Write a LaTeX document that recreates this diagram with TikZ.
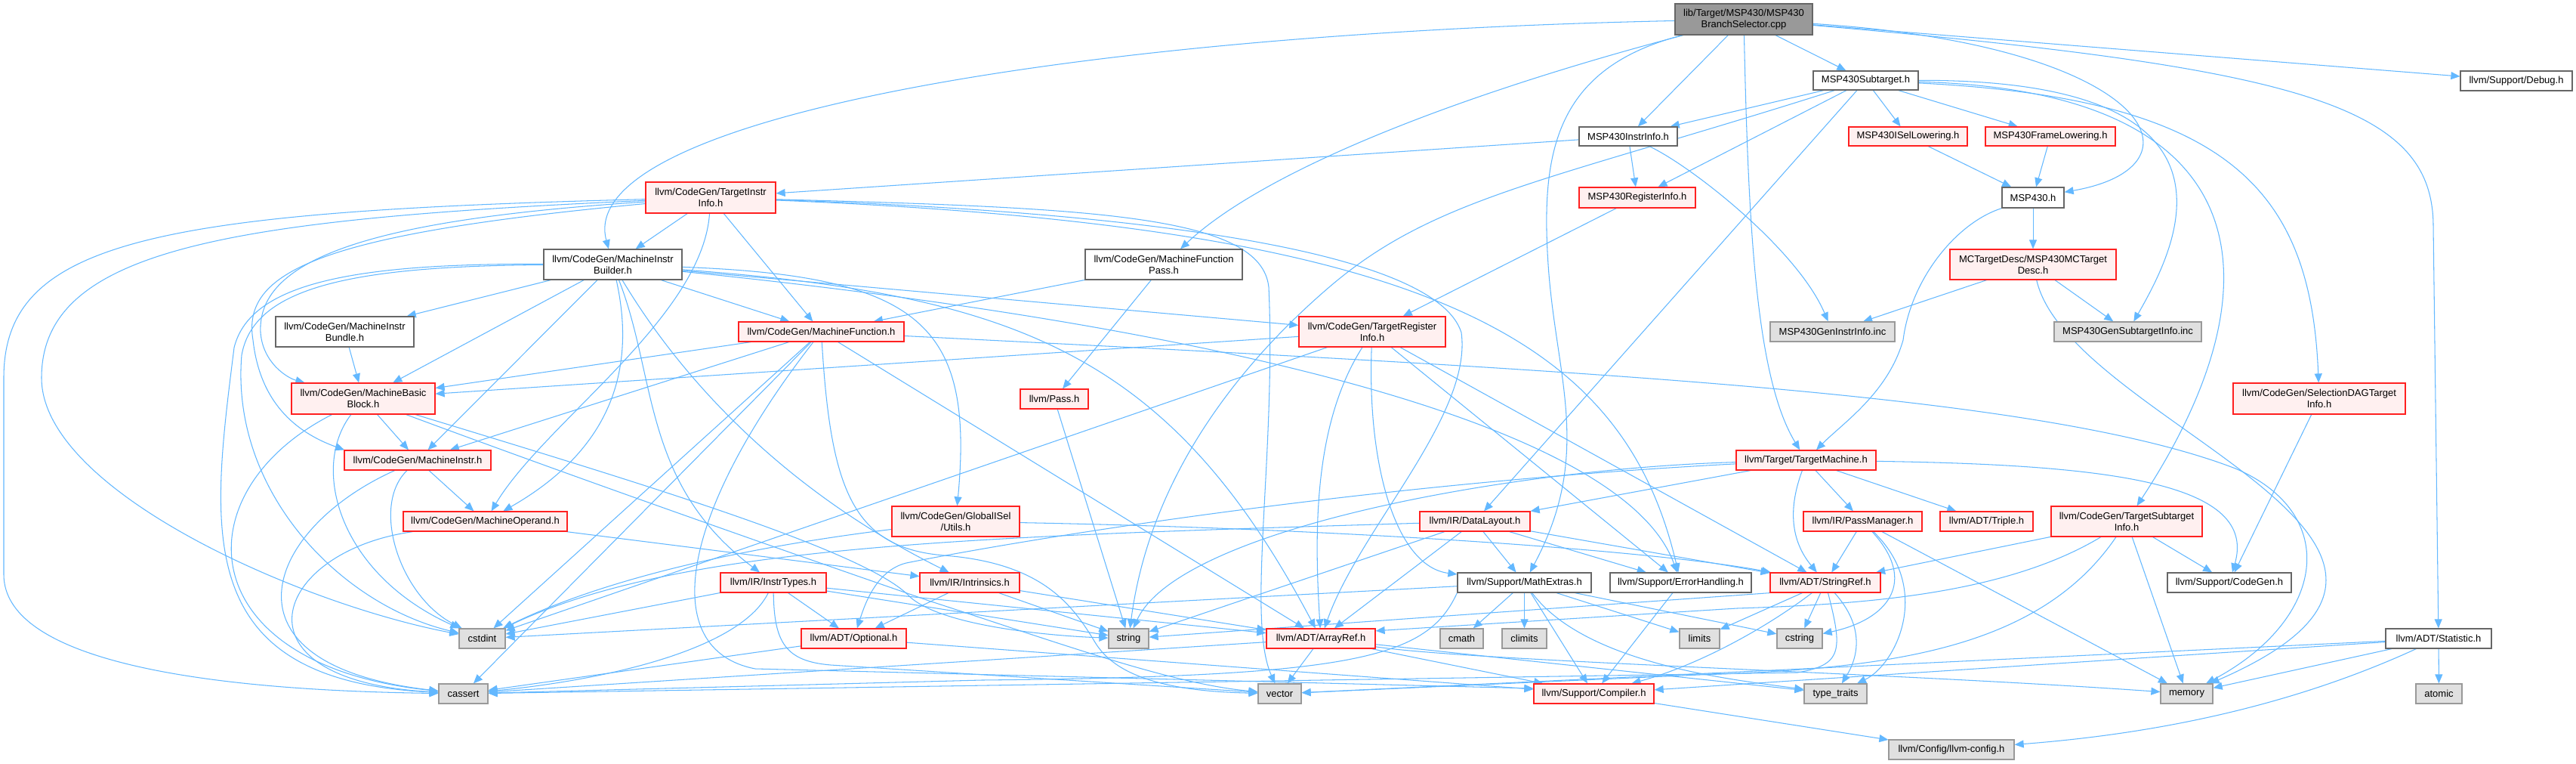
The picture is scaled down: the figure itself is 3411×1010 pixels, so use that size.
\documentclass[tikz,border=0pt]{standalone}
\usepackage{fontspec}
\setmainfont{Liberation Sans}
\usetikzlibrary{arrows.meta}
\pgfdeclarelayer{bglayer}
\pgfdeclarelayer{edgelayer}
\pgfsetlayers{bglayer,edgelayer,main}
\definecolor{edgec}{HTML}{63B8FF}
\definecolor{redb}{HTML}{FF2020}
\definecolor{redf}{HTML}{FFF0F0}
\definecolor{grayb}{HTML}{999999}
\definecolor{grayf}{HTML}{E0E0E0}
\definecolor{whiteb}{HTML}{666666}
\definecolor{mainf}{HTML}{999999}
\newcommand{\mknd}[7]{\node[#1,minimum width=#5pt,minimum height=#6pt] (#2) at (#3,#4) {#7};}
\begin{document}
\begin{tikzpicture}[x=1pt,y=-1pt,
  box/.style={line width=1.25pt, inner sep=0pt, align=center, font=\fontsize{13}{15}\selectfont, text=black},
  rn/.style={box, draw=redb, fill=redf},
  wn/.style={box, draw=whiteb, fill=white},
  gn/.style={box, draw=grayb, fill=grayf},
  mn/.style={box, draw=whiteb, fill=mainf},
  edg/.style={draw=edgec, line width=1.05pt, -{Triangle[length=12pt,width=10pt]}}]
\begin{pgfonlayer}{bglayer}
\fill[white] (0,0) rectangle (3411,1010);
\end{pgfonlayer}
\useasboundingbox (0,0) rectangle (3411,1010);
% nodes
\mknd{mn}{mainn}{2309}{25.5}{182}{41}{lib/Target/MSP430/MSP430\\BranchSelector.cpp}
\mknd{wn}{sub}{2470.5}{106.5}{139}{25}{MSP430Subtarget.h}
\mknd{wn}{debug}{3332}{107}{148}{26}{llvm/Support/Debug.h}
\mknd{wn}{instrinfo}{2156}{180.5}{130}{25}{MSP430InstrInfo.h}
\mknd{rn}{isel}{2526.5}{180.5}{157}{25}{MSP430ISelLowering.h}
\mknd{rn}{frame}{2715}{180.5}{172}{25}{MSP430FrameLowering.h}
\mknd{rn}{tii}{941}{261.5}{172}{41}{llvm/CodeGen/TargetInstr\\Info.h}
\mknd{rn}{reginfo}{2168}{261.5}{154}{27}{MSP430RegisterInfo.h}
\mknd{wn}{msp}{2692}{261.5}{82}{27}{MSP430.h}
\mknd{wn}{mib}{811.5}{350}{183}{40}{llvm/CodeGen/MachineInstr\\Builder.h}
\mknd{wn}{mfpass}{1541}{350}{208}{40}{llvm/CodeGen/MachineFunction\\Pass.h}
\mknd{rn}{mctd}{2692}{350}{220}{40}{MCTargetDesc/MSP430MCTarget\\Desc.h}
\mknd{wn}{bundle}{456.5}{439}{183}{40}{llvm/CodeGen/MachineInstr\\Bundle.h}
\mknd{rn}{mf}{1087.5}{439}{219}{26}{llvm/CodeGen/MachineFunction.h}
\mknd{rn}{tri}{1817}{439}{194}{40}{llvm/CodeGen/TargetRegister\\Info.h}
\mknd{gn}{geninstr}{2426.5}{439}{165}{26}{MSP430GenInstrInfo.inc}
\mknd{gn}{gensub}{2817.5}{439}{195}{26}{MSP430GenSubtargetInfo.inc}
\mknd{rn}{mbb}{481}{527.5}{190}{41}{llvm/CodeGen/MachineBasic\\Block.h}
\mknd{rn}{pass}{1396}{528}{90}{26}{llvm/Pass.h}
\mknd{rn}{sdag}{3071}{527.5}{228}{41}{llvm/CodeGen/SelectionDAGTarget\\Info.h}
\mknd{rn}{mi}{553}{609}{194}{26}{llvm/CodeGen/MachineInstr.h}
\mknd{rn}{tm}{2391.5}{609}{185}{26}{llvm/Target/TargetMachine.h}
\mknd{rn}{mo}{642.5}{690}{217}{26}{llvm/CodeGen/MachineOperand.h}
\mknd{rn}{gisel}{1265.5}{690}{169}{40}{llvm/CodeGen/GlobalISel\\/Utils.h}
\mknd{rn}{dl}{1953}{690}{146}{26}{llvm/IR/DataLayout.h}
\mknd{rn}{pm}{2466.5}{690}{157}{26}{llvm/IR/PassManager.h}
\mknd{rn}{triple}{2630.5}{690}{123}{26}{llvm/ADT/Triple.h}
\mknd{rn}{tsi}{2816}{690}{200}{40}{llvm/CodeGen/TargetSubtarget\\Info.h}
\mknd{rn}{itypes}{1024}{771}{140}{26}{llvm/IR/InstrTypes.h}
\mknd{rn}{intr}{1284}{771}{132}{26}{llvm/IR/Intrinsics.h}
\mknd{wn}{mathx}{2018.5}{771}{177}{26}{llvm/Support/MathExtras.h}
\mknd{wn}{errh}{2225.5}{771}{187}{26}{llvm/Support/ErrorHandling.h}
\mknd{rn}{sref}{2417}{771}{146}{26}{llvm/ADT/StringRef.h}
\mknd{wn}{cgen}{2952}{771}{164}{26}{llvm/Support/CodeGen.h}
\mknd{gn}{cstdint}{638.5}{845}{61}{26}{cstdint}
\mknd{rn}{opt}{1130.5}{845}{139}{26}{llvm/ADT/Optional.h}
\mknd{gn}{string}{1494.5}{845}{53}{26}{string}
\mknd{rn}{aref}{1749}{845}{144}{26}{llvm/ADT/ArrayRef.h}
\mknd{gn}{cmath}{1935.5}{845}{57}{26}{cmath}
\mknd{gn}{climits}{2018.5}{845}{59}{26}{climits}
\mknd{gn}{limits}{2250.5}{845}{53}{26}{limits}
\mknd{gn}{cstring}{2383}{845}{60}{26}{cstring}
\mknd{wn}{stat}{3229}{845}{140}{26}{llvm/ADT/Statistic.h}
\mknd{gn}{cassert}{613.5}{918}{65}{26}{cassert}
\mknd{gn}{vector}{1694.5}{918}{57}{26}{vector}
\mknd{rn}{comp}{2110.5}{918}{159}{26}{llvm/Support/Compiler.h}
\mknd{gn}{ttraits}{2430.5}{918}{83}{26}{type\_traits}
\mknd{gn}{memory}{2895.5}{918}{69}{26}{memory}
\mknd{gn}{atomic}{3229.5}{918}{61}{26}{atomic}
\mknd{gn}{lconf}{2584}{992}{166}{26}{llvm/Config/llvm-config.h}
% edges
\begin{pgfonlayer}{edgelayer}
% main
\draw[edg] (mainn) .. controls (1400,45) and (760,160) .. (mib);
\draw[edg] (mainn) .. controls (1950,120) and (1680,220) .. (mfpass);
\draw[edg] (mainn) .. controls (2060,90) and (2040,200) .. (2050,350) .. controls (2060,500) and (2110,600) .. (mathx);
\draw[edg] (mainn) -- (instrinfo);
\draw[edg] (mainn) .. controls (2315,300) and (2325,500) .. (tm);
\draw[edg] (mainn) -- (sub);
\draw[edg] (mainn) -- (debug);
\draw[edg] (mainn) .. controls (3050,90) and (3222,140) .. (3222,300) -- (stat);
\draw[edg] (mainn) .. controls (2850,60) and (2930,220) .. (msp);
% subtarget
\draw[edg] (sub) -- (instrinfo);
\draw[edg] (sub) -- (reginfo);
\draw[edg] (sub) -- (isel);
\draw[edg] (sub) -- (frame);
\draw[edg] (sub) -- (dl);
\draw[edg] (sub) .. controls (2050,240) and (1900,260) .. (1760,380) .. controls (1620,500) and (1520,650) .. (string);
\draw[edg] (sub) .. controls (3000,105) and (2880,330) .. (gensub);
\draw[edg] (sub) .. controls (3000,120) and (3020,380) .. (tsi);
\draw[edg] (sub) .. controls (2950,130) and (3060,250) .. (sdag);
% instrinfo etc
\draw[edg] (instrinfo) -- (tii);
\draw[edg] (instrinfo) -- (reginfo);
\draw[edg] (instrinfo) .. controls (2240,220) and (2380,330) .. (geninstr);
\draw[edg] (reginfo) -- (tri);
\draw[edg] (isel) -- (msp);
\draw[edg] (frame) -- (msp);
\draw[edg] (msp) -- (mctd);
\draw[edg] (msp.south west) .. controls (2590,295) and (2530,370) .. (2520,450) .. controls (2500,520) and (2440,560) .. (tm);
\draw[edg] (mctd) -- (geninstr);
\draw[edg] (mctd) -- (gensub);
\draw[edg] (mctd) .. controls (2740,560) and (3350,720) .. (memory);
% TargetInstrInfo
\draw[edg] (tii) -- (mib);
\draw[edg] (tii) -- (mf);
\draw[edg] (tii) .. controls (500,290) and (340,340) .. (345,440) .. controls (348,480) and (380,500) .. (mbb);
\draw[edg] (tii) .. controls (420,310) and (320,360) .. (335,450) .. controls (345,540) and (400,575) .. (mi.172);
\draw[edg] (tii) .. controls (930,420) and (720,560) .. (mo);
\draw[edg] (tii) .. controls (1500,280) and (1900,330) .. (1935,440) .. controls (1950,550) and (1800,700) .. (aref);
\draw[edg] (tii) .. controls (1900,300) and (2150,450) .. (errh);
\draw[edg] (tii) .. controls (200,280) and (5,320) .. (5,500) -- (5,760) .. controls (5,900) and (400,915) .. (cassert);
\draw[edg] (tii) .. controls (300,290) and (55,330) .. (55,500) .. controls (55,650) and (400,800) .. (cstdint);
\draw[edg] (tii) .. controls (1450,275) and (1670,285) .. (1680,380) .. controls (1690,600) and (1650,820) .. (vector);
% MachineInstrBuilder
\draw[edg] (mib) -- (bundle);
\draw[edg] (mib) -- (mbb);
\draw[edg] (mib) -- (mi);
\draw[edg] (mib) .. controls (845,500) and (800,600) .. (mo);
\draw[edg] (mib) -- (mf);
\draw[edg] (mib) -- (tri);
\draw[edg] (mib) .. controls (1220,365) and (1290,430) .. (gisel);
\draw[edg] (mib) .. controls (1350,390) and (1550,470) .. (aref);
\draw[edg] (mib) .. controls (1600,430) and (2150,560) .. (errh);
\draw[edg] (mib) .. controls (870,500) and (850,640) .. (itypes);
\draw[edg] (mib) .. controls (860,430) and (980,620) .. (intr);
\draw[edg] (mib) .. controls (450,348) and (330,380) .. (310,460) .. controls (280,700) and (250,900) .. (cassert);
\draw[edg] (mib) .. controls (450,352) and (335,385) .. (320,470) .. controls (305,650) and (450,800) .. (cstdint);
% bundle, mfpass
\draw[edg] (bundle) -- (mbb);
\draw[edg] (mfpass) -- (mf);
\draw[edg] (mfpass) -- (pass);
% MachineFunction
\draw[edg] (mf) -- (mbb);
\draw[edg] (mf) -- (mi);
\draw[edg] (mf) -- (cassert);
\draw[edg] (mf) -- (cstdint);
\draw[edg] (mf) -- (aref);
\draw[edg] (mf) .. controls (900,680) and (870,860) .. (1000,885) -- (comp.175);
\draw[edg] (mf) .. controls (1100,650) and (1130,725) .. (1250,735) .. controls (1380,745) and (1420,800) .. (1450,850) .. controls (1480,900) and (1560,915) .. (vector);
\draw[edg] (mf) .. controls (2100,490) and (2700,520) .. (2960,620) .. controls (3100,680) and (3080,820) .. (memory);
% MachineBasicBlock
\draw[edg] (mbb) -- (mi);
\draw[edg] (mbb) .. controls (240,650) and (250,880) .. (cassert);
\draw[edg] (mbb) .. controls (410,620) and (450,760) .. (cstdint);
\draw[edg] (mbb) .. controls (850,640) and (1150,730) .. (1205,790) .. controls (1250,830) and (1400,842) .. (string);
\draw[edg] (mbb) .. controls (800,646) and (1100,750) .. (1230,795) .. controls (1400,850) and (1550,905) .. (vector);
% MachineInstr, MachineOperand
\draw[edg] (mi) -- (mo);
\draw[edg] (mi) .. controls (350,700) and (280,880) .. (cassert);
\draw[edg] (mi) .. controls (490,670) and (530,790) .. (cstdint);
\draw[edg] (mo) .. controls (360,730) and (300,900) .. (cassert);
\draw[edg] (mo) -- (intr);
% GlobalISel
\draw[edg] (gisel) .. controls (1800,700) and (2200,730) .. (sref);
\draw[edg] (gisel) .. controls (900,735) and (750,790) .. (cstdint);
% InstrTypes, Intrinsics, Optional, Pass
\draw[edg] (itypes) -- (opt);
\draw[edg] (itypes) .. controls (980,860) and (800,900) .. (cassert);
\draw[edg] (itypes) .. controls (1025,850) and (1040,875) .. (1100,880) -- (vector);
\draw[edg] (itypes) -- (string);
\draw[edg] (itypes) -- (aref);
\draw[edg] (itypes) -- (cstdint);
\draw[edg] (intr) -- (opt);
\draw[edg] (intr) -- (string);
\draw[edg] (intr) -- (aref);
\draw[edg] (opt) -- (cassert);
\draw[edg] (opt) -- (comp);
\draw[edg] (pass) -- (string);
% ArrayRef
\draw[edg] (aref) -- (vector);
\draw[edg] (aref) -- (comp);
\draw[edg] (aref) -- (ttraits);
\draw[edg] (aref) .. controls (1950,875) and (2500,890) .. (memory);
\draw[edg] (aref) -- (cassert);
% StringRef
\draw[edg] (sref) -- (cstring);
\draw[edg] (sref) -- (limits);
\draw[edg] (sref) .. controls (2470,830) and (2460,870) .. (ttraits);
\draw[edg] (sref) .. controls (2340,830) and (2250,880) .. (comp);
\draw[edg] (sref.south west) -- (string);
\draw[edg] (sref) .. controls (2440,860) and (2440,880) .. (2380,890) -- (cassert);
% MathExtras
\draw[edg] (mathx) -- (cmath);
\draw[edg] (mathx) -- (climits);
\draw[edg] (mathx) -- (limits);
\draw[edg] (mathx) -- (cstring);
\draw[edg] (mathx) .. controls (2100,880) and (2300,900) .. (ttraits);
\draw[edg] (mathx) -- (comp);
\draw[edg] (mathx) -- (cstdint);
\draw[edg] (mathx.south west) .. controls (1890,870) and (1800,895) .. (1300,900) -- (cassert);
\draw[edg] (errh) -- (comp);
% DataLayout
\draw[edg] (dl) -- (mathx);
\draw[edg] (dl) -- (errh);
\draw[edg] (dl) -- (sref);
\draw[edg] (dl) -- (aref);
\draw[edg] (dl) -- (string);
\draw[edg] (dl) .. controls (1300,710) and (900,720) .. (cstdint);
% PassManager
\draw[edg] (pm) -- (sref);
\draw[edg] (pm) .. controls (2540,770) and (2500,820) .. (cstring);
\draw[edg] (pm) .. controls (2560,780) and (2510,880) .. (ttraits);
\draw[edg] (pm) -- (memory);
% TargetMachine
\draw[edg] (tm) -- (dl);
\draw[edg] (tm) -- (pm);
\draw[edg] (tm) .. controls (2365,680) and (2375,720) .. (sref);
\draw[edg] (tm) -- (triple);
\draw[edg] (tm) .. controls (2800,615) and (2990,640) .. (cgen);
\draw[edg] (tm) .. controls (2000,620) and (1560,700) .. (string);
\draw[edg] (tm) .. controls (1800,640) and (1350,715) .. (1200,745) .. controls (1160,755) and (1145,800) .. (opt);
% TargetRegisterInfo
\draw[edg] (tri) -- (mbb);
\draw[edg] (tri) -- (cstdint);
\draw[edg] (tri) .. controls (1740,560) and (1740,700) .. (aref);
\draw[edg] (tri) .. controls (1810,620) and (1850,750) .. (mathx);
\draw[edg] (tri) -- (errh);
\draw[edg] (tri) -- (sref);
% TargetSubtargetInfo, SelectionDAG
\draw[edg] (tsi) -- (sref);
\draw[edg] (tsi) .. controls (2650,790) and (2450,800) .. (2300,805) -- (aref.8);
\draw[edg] (tsi) .. controls (2700,860) and (2500,885) .. (2250,893) -- (vector);
\draw[edg] (tsi) -- (cgen);
\draw[edg] (tsi) -- (memory);
\draw[edg] (sdag) -- (cgen);
% Statistic, Compiler
\draw[edg] (stat) -- (atomic);
\draw[edg] (stat) -- (memory);
\draw[edg] (stat) .. controls (3000,950) and (2800,975) .. (lconf);
\draw[edg] (stat) -- (comp);
\draw[edg] (stat) -- (vector);
\draw[edg] (comp) -- (lconf);
\end{pgfonlayer}
\end{tikzpicture}
\end{document}
